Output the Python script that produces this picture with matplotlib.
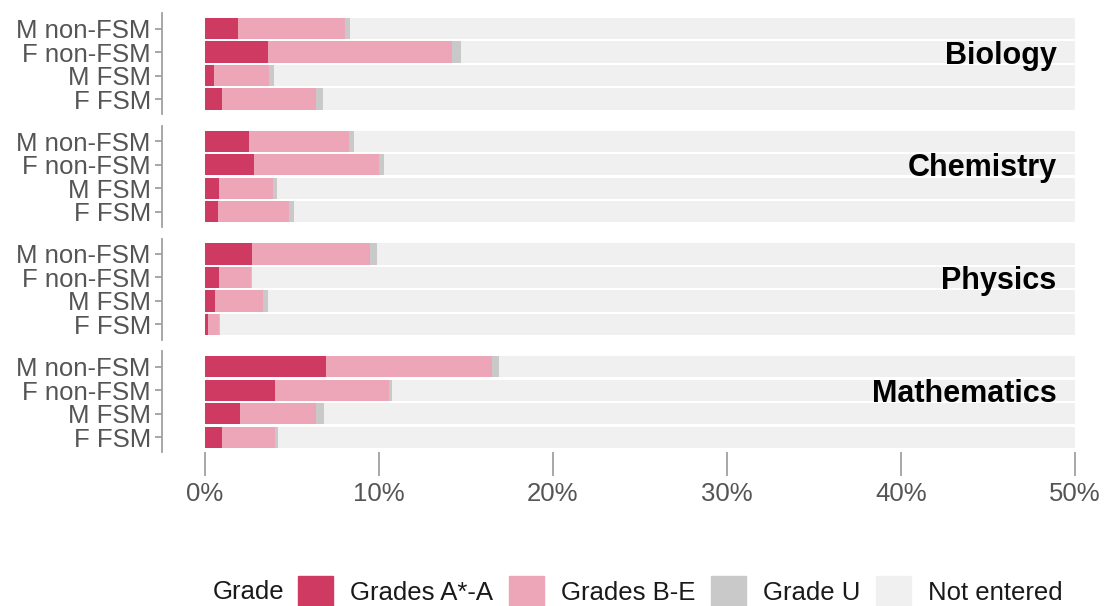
import matplotlib.pyplot as plt
from matplotlib.patches import Patch

plt.rcParams['font.family'] = ['Liberation Sans', 'DejaVu Sans']

subjects = ['Biology', 'Chemistry', 'Physics', 'Mathematics']
groups = ['M non-FSM', 'F non-FSM', 'M FSM', 'F FSM']

# percent of pupils per grade band, one list per subject (order = groups)
grade_a = {
    'Biology': [1.9, 3.6, 0.5, 1.0],
    'Chemistry': [2.55, 2.8, 0.8, 0.75],
    'Physics': [2.7, 0.8, 0.6, 0.15],
    'Mathematics': [6.95, 4.05, 2.0, 0.95],
}
grade_be = {
    'Biology': [6.15, 10.6, 3.2, 5.4],
    'Chemistry': [5.7, 7.2, 3.1, 4.05],
    'Physics': [6.8, 1.85, 2.75, 0.65],
    'Mathematics': [9.55, 6.5, 4.4, 3.05],
}
grade_u = {
    'Biology': [0.3, 0.5, 0.25, 0.4],
    'Chemistry': [0.3, 0.3, 0.25, 0.3],
    'Physics': [0.4, 0.05, 0.25, 0.05],
    'Mathematics': [0.4, 0.2, 0.45, 0.2],
}

col_a = '#cf3a62'
col_be = '#eca6b8'
col_u = '#c9c9c9'
col_ne = '#f0f0f0'

W, H = 1105, 606
fig = plt.figure(figsize=(W / 100, H / 100), dpi=100)

left = 205 / W
width = 870 / W
tops = [13.3, 126, 238.7, 351.4]
ax_h = 101

for k, subj in enumerate(subjects):
    ax = fig.add_axes([left, 1 - (tops[k] + ax_h) / H, width, ax_h / H])
    # spine position first: moving it resets the tick labels
    for s in ['top', 'right', 'bottom']:
        ax.spines[s].set_visible(False)
    ax.spines['left'].set_position(('outward', 31))
    ax.spines['left'].set_color('#a0a0a0')
    ax.spines['left'].set_linewidth(1.3)

    y = list(range(len(groups)))
    a = grade_a[subj]
    be = grade_be[subj]
    u = grade_u[subj]
    left_be = a
    left_u = [a[i] + be[i] for i in y]
    left_ne = [left_u[i] + u[i] for i in y]
    ne = [100 - v for v in left_ne]
    hb = 0.9
    ax.barh(y, a, height=hb, color=col_a, linewidth=0)
    ax.barh(y, be, left=left_be, height=hb, color=col_be, linewidth=0)
    ax.barh(y, u, left=left_u, height=hb, color=col_u, linewidth=0)
    ax.barh(y, ne, left=left_ne, height=hb, color=col_ne, linewidth=0)

    ax.set_xlim(0, 50)
    ax.set_ylim(3.65, -0.65)
    ax.set_yticks(y)
    ax.set_yticklabels(groups)
    ax.tick_params(axis='y', length=5, width=1.3, color='#a0a0a0', pad=3,
                   labelsize=18.5, labelcolor='#555555')
    ax.text(0.979, 0.58, subj, transform=ax.transAxes, ha='right', va='center',
            fontsize=22, fontweight='bold', color='black')

    if k == len(subjects) - 1:
        ax.set_xticks([0, 10, 20, 30, 40, 50])
        ax.set_xticklabels(['0%', '10%', '20%', '30%', '40%', '50%'])
        ax.tick_params(axis='x', length=17, width=1.3, color='#a0a0a0', pad=4,
                       labelsize=18.5, labelcolor='#555555')
    else:
        ax.set_xticks([])

fig.text(213 / W, 1 - 592 / H, 'Grade', fontsize=18.5, ha='left', va='center',
         color='#1a1a1a')
handles = [Patch(color=col_a), Patch(color=col_be), Patch(color=col_u), Patch(color=col_ne)]
labels = ['Grades A*-A', 'Grades B-E', 'Grade U', 'Not entered']
fig.legend(handles, labels, ncol=4, loc='center left',
           bbox_to_anchor=(298 / W, 1 - 592 / H), frameon=False,
           borderpad=0, borderaxespad=0, fontsize=18.5,
           handlelength=1.36, handleheight=1.5, handletextpad=0.66,
           columnspacing=0.62, labelcolor='#1a1a1a')

fig.savefig('out.png', dpi=100)
